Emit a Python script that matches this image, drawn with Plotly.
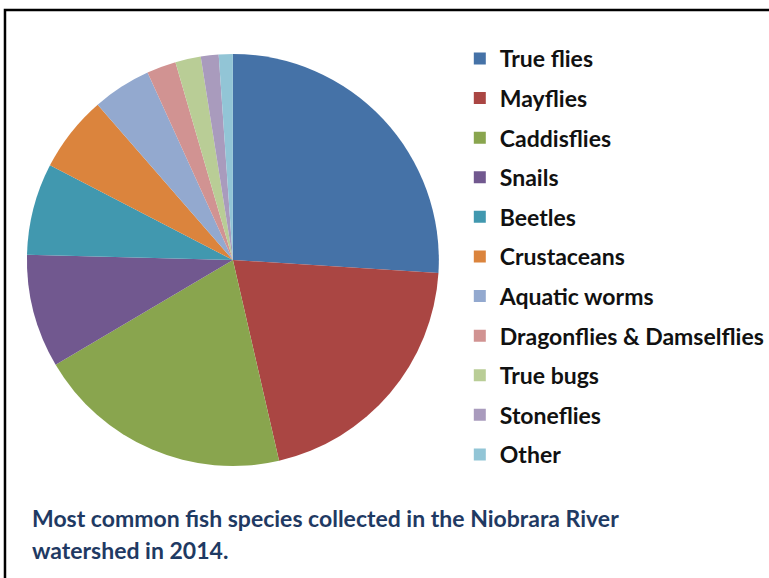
import plotly.graph_objects as go

categories = ["True flies", "Mayflies", "Caddisflies", "Snails", "Beetles", "Crustaceans",
              "Aquatic worms", "Dragonflies & Damselflies", "True bugs", "Stoneflies", "Other"]
percent = [26.0, 20.4, 20.1, 8.9, 7.2, 6.0, 4.6, 2.3, 2.0, 1.4, 1.1]
colors = ["#4572A7", "#AA4643", "#89A54E", "#71588F", "#4198AF", "#DB843D",
          "#93A9CF", "#D19392", "#B9CD96", "#A99BBD", "#92C5D6"]
caption_lines = ["Most common fish species collected in the Niobrara River",
                 "watershed in 2014."]

W, H = 769, 578
fig = go.Figure()
fig.add_trace(go.Pie(
    labels=categories, values=percent, sort=False, direction="clockwise", rotation=0,
    marker=dict(colors=colors, line=dict(width=0)), textinfo="none", hoverinfo="label+percent",
    showlegend=False,
    domain=dict(x=[27 / W, 440 / W], y=[1 - 467 / H, 1 - 53 / H]),
))
for i, (c, col) in enumerate(zip(categories, colors)):
    fig.add_trace(go.Scatter(
        x=[None], y=[None], mode="markers", name=c, legendgroup=f"g{i}",
        marker=dict(symbol="square", size=12, color=col), showlegend=True,
    ))

shapes = [dict(type="rect", xref="paper", yref="paper", x0=5 / W, x1=1.2, y0=-0.2, y1=1 - 10 / H,
               line=dict(color="black", width=2.5), fillcolor="rgba(0,0,0,0)")]
annotations = []
for j, line in enumerate(caption_lines):
    annotations.append(dict(
        text=line, xref="paper", yref="paper", x=30 / W, y=1 - (518 + 32 * j) / H,
        xanchor="left", yanchor="middle", showarrow=False, align="left",
        font=dict(family="Lato", size=23, color="#1F3A63", weight="bold"),
    ))

fig.update_layout(
    width=W, height=H, margin=dict(l=0, r=0, t=0, b=0),
    paper_bgcolor="white", plot_bgcolor="white",
    xaxis=dict(visible=False), yaxis=dict(visible=False),
    legend=dict(x=461 / W, y=1 - 37 / H, xanchor="left", yanchor="top",
                font=dict(family="Lato", size=23, color="#111111", weight="bold"),
                tracegroupgap=6.7, bgcolor="rgba(0,0,0,0)", itemwidth=30),
    shapes=shapes, annotations=annotations,
)
fig.write_html("out.html", config={"displayModeBar": False},
               post_script="document.body.style.margin='0';document.body.style.overflow='hidden';")
